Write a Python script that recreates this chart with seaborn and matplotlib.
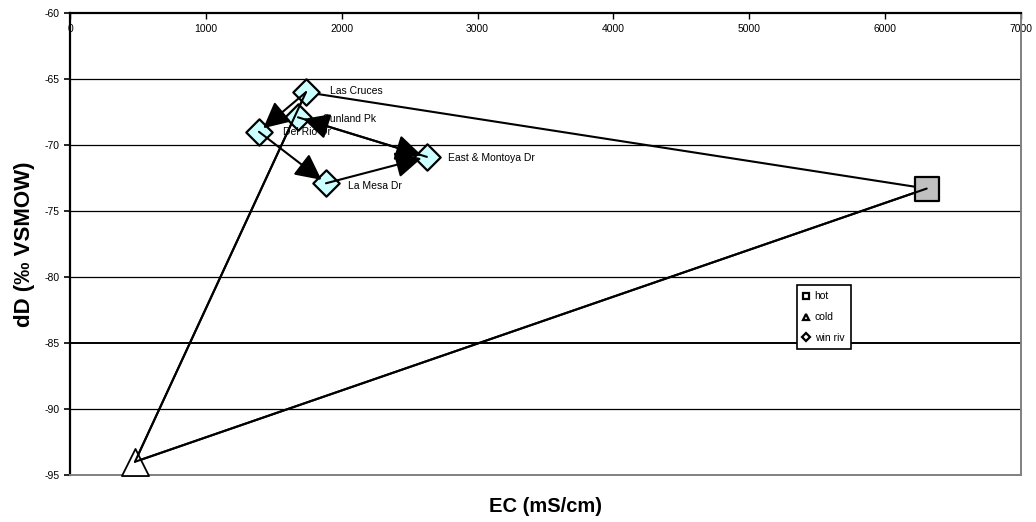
import matplotlib
matplotlib.use("Agg")
import matplotlib.pyplot as plt
import seaborn as sns
import pandas as pd
from matplotlib.lines import Line2D

# ---- data ----
site_names = ["Las Cruces", "Sunland Pk", "Del Rio Dr", "La Mesa Dr", "East & Montoya Dr"]
site_ec = [1737, 1678, 1391, 1884, 2627]
site_dd = [-66.0, -67.9, -69.0, -72.9, -70.9]
hot_ec = [6306]
hot_dd = [-73.3]
cold_ec = [478]
cold_dd = [-94.0]
# arrow sequence (from, to) by site name
arrow_pairs = [("Las Cruces", "Del Rio Dr"), ("Del Rio Dr", "La Mesa Dr"),
               ("La Mesa Dr", "East & Montoya Dr"), ("East & Montoya Dr", "Sunland Pk"),
               ("Sunland Pk", "East & Montoya Dr")]
x_ticks = [0, 1000, 2000, 3000, 4000, 5000, 6000, 7000]
y_ticks = [-60, -65, -70, -75, -80, -85, -90, -95]

sns.set_style("white")
plt.rcParams['font.family'] = ['Liberation Sans', 'DejaVu Sans']
plt.rcParams['axes.unicode_minus'] = False
for k in ['text.color', 'axes.labelcolor', 'xtick.color', 'ytick.color',
          'xtick.labelcolor', 'ytick.labelcolor']:
    plt.rcParams[k] = 'black'

fig = plt.figure(figsize=(10.36, 5.22), dpi=100)
ax = fig.add_axes([70/1036, 1-475/522, (1021-70)/1036, (475-13)/522])

ax.set_xlim(0, 7000)
ax.set_ylim(-95, -60)

# gridlines
for yv in y_ticks[1:-1]:
    ax.axhline(yv, color="black", lw=1.4 if yv == -85 else 0.9, zorder=1)

# mixing triangle lines
tri_x = [cold_ec[0], site_ec[0], hot_ec[0], cold_ec[0]]
tri_y = [cold_dd[0], site_dd[0], hot_dd[0], cold_dd[0]]
ax.plot(tri_x, tri_y, color="black", lw=1.5, zorder=2)

pos = {n: (x, y) for n, x, y in zip(site_names, site_ec, site_dd)}

# markers
df_sites = pd.DataFrame({"ec": site_ec, "dd": site_dd})
sns.scatterplot(data=df_sites, x="ec", y="dd", marker="D", s=180, color="#CCFFFF",
                edgecolor="black", linewidth=1.6, ax=ax, zorder=3, legend=False)
sns.scatterplot(x=hot_ec, y=hot_dd, marker="s", s=290, color="#C0C0C0",
                edgecolor="black", linewidth=1.6, ax=ax, zorder=3, legend=False)
sns.scatterplot(x=cold_ec, y=cold_dd, marker="^", s=380, color="white",
                edgecolor="black", linewidth=1.3, ax=ax, zorder=3, legend=False, clip_on=False)
ax.plot(tri_x[:2], tri_y[:2], color="black", lw=1.5, zorder=4, clip_on=False)
ax.plot(tri_x[2:], tri_y[2:], color="black", lw=1.5, zorder=4, clip_on=False)

# arrows
for a, b in arrow_pairs:
    (x0, y0), (x1, y1) = pos[a], pos[b]
    ax.annotate("", xy=(x1, y1), xytext=(x0, y0),
                arrowprops=dict(arrowstyle="-|>,head_length=1.6,head_width=0.8",
                                color="black", lw=1.5, shrinkA=0, shrinkB=4),
                zorder=5)

# labels
label_off = {"Las Cruces": (17, 1), "Sunland Pk": (18, -1), "Del Rio Dr": (17, 0),
             "La Mesa Dr": (16, -2), "East & Montoya Dr": (15, -1)}
for n in site_names:
    ax.annotate(n, pos[n], xytext=label_off[n], textcoords="offset points",
                fontsize=7.5, va="center", ha="left", zorder=6)

# axes styling
ax.set_xticks(x_ticks)
ax.set_yticks(y_ticks)
ax.tick_params(axis="x", top=True, bottom=False, labeltop=True, labelbottom=False,
               direction="in", length=4, width=1, pad=-15, labelsize=7.5)
ax.tick_params(axis="y", left=True, direction="out", length=4, width=1.2, labelsize=7.5)
for s in ["left", "top"]:
    ax.spines[s].set_color("black")
    ax.spines[s].set_linewidth(1.6)
for s in ["right", "bottom"]:
    ax.spines[s].set_color("#808080")
    ax.spines[s].set_linewidth(1.4)

ax.set_xlabel("EC (mS/cm)", fontsize=14.5, fontweight="bold", labelpad=16)
ax.set_ylabel("dD (‰ VSMOW)", fontsize=16, fontweight="bold", labelpad=7)
ax.xaxis.set_label_position("bottom")

handles = [
    Line2D([], [], marker="s", ls="none", markerfacecolor="white", markeredgecolor="black",
           markeredgewidth=1.6, markersize=4),
    Line2D([], [], marker="^", ls="none", markerfacecolor="white", markeredgecolor="black",
           markeredgewidth=1.6, markersize=5),
    Line2D([], [], marker="D", ls="none", markerfacecolor="white", markeredgecolor="black",
           markeredgewidth=1.6, markersize=4),
]
leg = ax.legend(handles, ["hot", "cold", "win riv"], loc="upper left",
                bbox_to_anchor=((797-70)/951, (475-285)/462), fontsize=7.5,
                frameon=True, fancybox=False, framealpha=1, borderpad=0.6,
                handlelength=0.6, handletextpad=0.5, labelspacing=1.05, borderaxespad=0)
leg.get_frame().set_edgecolor("black")
leg.get_frame().set_linewidth(1.2)
leg.set_zorder(10)

fig.savefig("out.png", dpi=100, facecolor="white")
